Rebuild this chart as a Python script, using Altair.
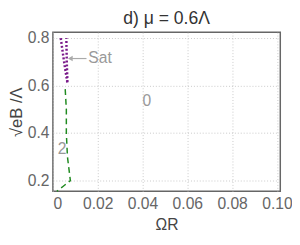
import altair as alt
import pandas as pd

# data
sat_x = [0.0035, 0.0050, 0.0065, 0.0062, 0.0060]
sat_y = [0.80, 0.70, 0.61, 0.70, 0.80]
two_x = [0.0055, 0.0060, 0.0060, 0.0065, 0.0078, 0.0045, 0.0018]
two_y = [0.585, 0.50, 0.40, 0.30, 0.20, 0.175, 0.155]
labels = ["Sat", "0", "2"]
label_x = [0.0158, 0.040, 0.0022]
label_y = [0.714, 0.533, 0.332]
x_ticks = [0, 0.02, 0.04, 0.06, 0.08, 0.10]
y_ticks = [0.2, 0.4, 0.6, 0.8]

FONT = "Liberation Sans"
GRAY = "#666666"

sat_df = pd.DataFrame({"x": sat_x, "y": sat_y, "o": range(len(sat_x))})
two_df = pd.DataFrame({"x": two_x, "y": two_y, "o": range(len(two_x))})
lab_df = pd.DataFrame({"x": label_x, "y": label_y, "t": labels})
arrow_df = pd.DataFrame({"x": [0.0150], "x2": [0.0072], "y": [0.714]})
head_df = pd.DataFrame({"x": [0.0078], "y": [0.714]})

xs = alt.Scale(domain=[0, 0.1015], nice=False, zero=False)
ys = alt.Scale(domain=[0.155, 0.825], nice=False, zero=False)

xax = alt.Axis(values=x_ticks, labelExpr="datum.value == 0 ? '0' : format(datum.value, '.2f')",
               title="ΩR", grid=True)
yax = alt.Axis(values=y_ticks, format=".1f", title="√eB /Λ", grid=True)

green = alt.Chart(two_df).mark_line(color="#1f8a1f", strokeDash=[6, 4], strokeWidth=1.5).encode(
    x=alt.X("x:Q", scale=xs, axis=xax),
    y=alt.Y("y:Q", scale=ys, axis=yax),
    order="o:Q",
)
purple = alt.Chart(sat_df).mark_line(color="#7a1a8a", strokeDash=[2, 2], strokeWidth=2.5).encode(
    x=alt.X("x:Q", scale=xs), y=alt.Y("y:Q", scale=ys), order="o:Q"
)
arrow = alt.Chart(arrow_df).mark_rule(color="#aaaaaa", strokeWidth=1.2).encode(
    x=alt.X("x:Q", scale=xs), x2="x2:Q", y=alt.Y("y:Q", scale=ys)
)
head = alt.Chart(head_df).mark_point(shape="triangle-left", filled=True, color="#aaaaaa", size=30, opacity=1).encode(
    x=alt.X("x:Q", scale=xs), y=alt.Y("y:Q", scale=ys)
)
text = alt.Chart(lab_df).mark_text(font=FONT, fontSize=16, color="#999999", align="left", baseline="middle").encode(
    x=alt.X("x:Q", scale=xs), y=alt.Y("y:Q", scale=ys), text="t:N"
)

chart = alt.layer(green, purple, arrow, head, text).properties(
    width=233, height=163,
    title=alt.TitleParams("d) μ = 0.6Λ", font=FONT, fontSize=18, fontWeight="normal", color="#333333", offset=2),
    autosize=alt.AutoSizeParams(type="none"),
    padding={"left": 46, "top": 22, "right": 12, "bottom": 40},
).configure_axis(
    labelFont=FONT, labelFontSize=16, labelColor=GRAY, titleFont=FONT, titleFontSize=16,
    titleColor="#444444", titleFontWeight="normal", domain=False, ticks=False, labelPadding=4,
    gridColor="#bbbbbb", gridDash=[1, 2], gridWidth=0.8,
).configure_axisX(titlePadding=5, labelPadding=5).configure_axisY(titlePadding=2, titleFontSize=17).configure_view(
    stroke="#666666", strokeWidth=1.5
)

chart.save("out.html", embed_options={"renderer": "svg", "actions": False})
